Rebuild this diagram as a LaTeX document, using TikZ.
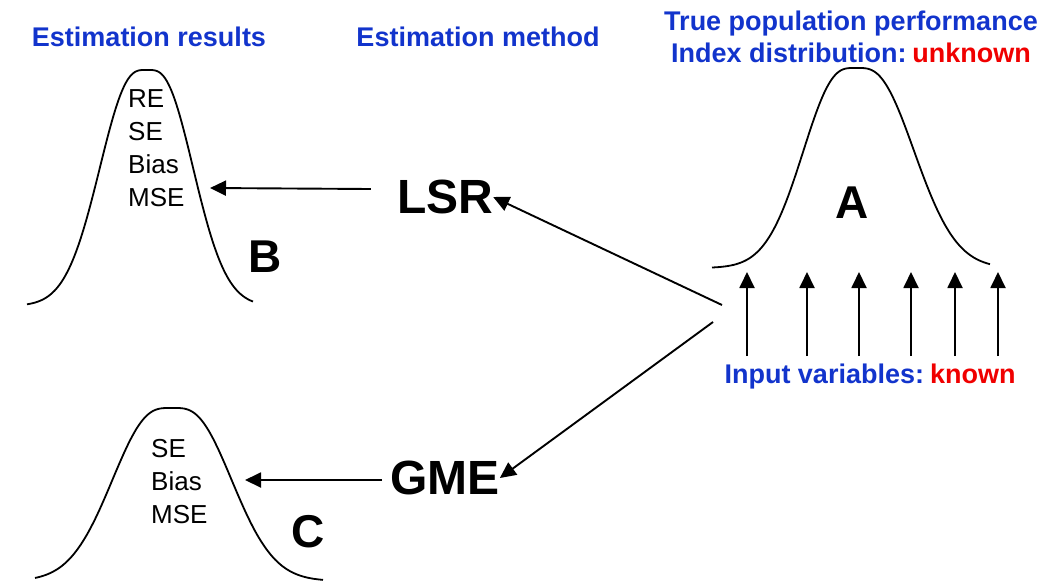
\documentclass[tikz,border=0pt]{standalone}
\usepackage{fontspec}
\setmainfont{Liberation Sans}
\usetikzlibrary{arrows.meta}
\definecolor{headblue}{RGB}{18,52,204}
\definecolor{keyred}{RGB}{240,0,0}
% round-topped bell: base, height, centre, top rounding, left and right spread
\newcommand{\bellcurve}[8]{%
  \draw[curve] plot[domain=#1:#2,samples=140]
    (\x,{#3-#4*exp(-0.5*((veclen(\x-#5,#6)-#6)/((\x<#5)?#7:#8))^2)});}
\begin{document}
\begin{tikzpicture}[x=1pt,y=-1pt,
  head/.style={text=headblue,font=\fontsize{27}{32}\selectfont\bfseries,align=center,inner sep=0pt},
  method/.style={font=\fontsize{48}{52}\selectfont\bfseries,inner sep=0pt},
  letter/.style={font=\fontsize{46}{50}\selectfont\bfseries,inner sep=0pt},
  stats/.style={font=\fontsize{26}{33}\selectfont,align=left,anchor=north west,inner sep=0pt},
  curve/.style={line width=1.8pt,line join=round},
  arr/.style={line width=1.9pt,-{Triangle[length=16pt,width=15pt]}}]
\useasboundingbox (0,0) rectangle (1052,582);

% column headings
\node[head] (hres) at (149,37) {Estimation results};
\node[head] (hmeth) at (478,37) {Estimation method};
\node[head] (htrue) at (851,37) {True population performance\\Index distribution:\hspace{0.22em}\textcolor{keyred}{unknown}};

% population distribution A
\bellcurve{712}{990}{268}{200}{856}{17}{37}{42}
\node[letter] (A) at (852,203) {A};

% input variables
\foreach \x [count=\i] in {747,807,859,911,955,998}{
  \coordinate (in\i) at (\x,356);
  \coordinate (top\i) at (\x,272);
  \draw[arr] (in\i) -- (top\i);
}
\node[head] (inputs) at (870,377) {Input variables:\hspace{0.22em}\textcolor{keyred}{known}};

% estimation methods
\node[method] (lsr) at (445,197) {LSR};
\node[method] (gme) at (445,478) {GME};
\coordinate (src1) at (722,305);
\coordinate (src2) at (713,322);
\draw[arr] (src1) -- (lsr.east);
\draw[arr] (src2) -- (gme.east);

% estimation result B
\bellcurve{27}{253}{306}{236}{147}{14}{34}{33}
\node[stats] (bstats) at (128,89) {RE\\SE\\Bias\\MSE};
\node[letter] (B) at (265,257) {B};
\coordinate (bend) at (210,188);
\draw[arr] (lsr.west) ++(-26,-8) coordinate (lsrout) -- (bend);

% estimation result C
\bellcurve{35}{323}{581}{173}{172}{19}{42}{42}
\node[stats] (cstats) at (151,439) {SE\\Bias\\MSE};
\node[letter] (C) at (308,532) {C};
\coordinate (cend) at (245,480);
\draw[arr] (gme.west) ++(-8,2) coordinate (gmeout) -- (cend);
\end{tikzpicture}
\end{document}
